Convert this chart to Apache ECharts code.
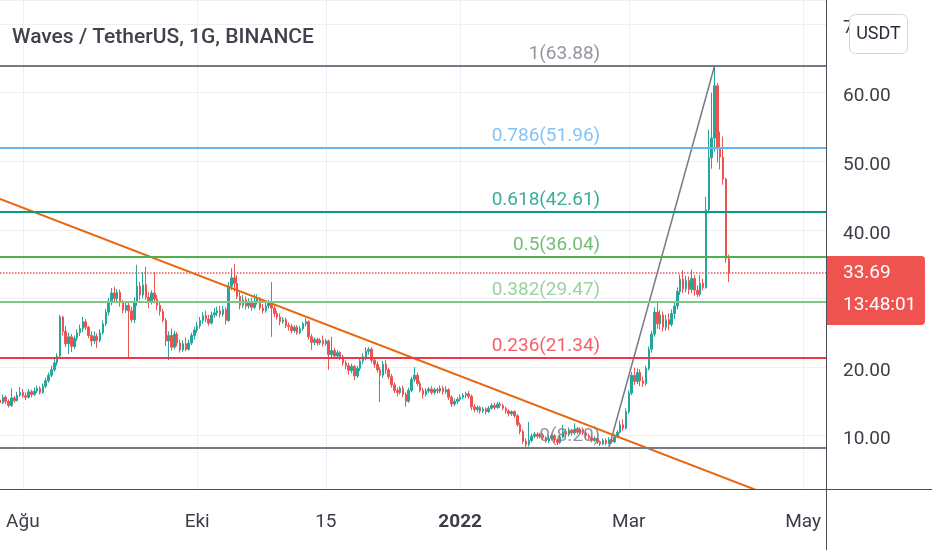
<!DOCTYPE html>
<html><head><meta charset="utf-8">
<script src="https://cdn.jsdelivr.net/npm/echarts@6/dist/echarts.min.js"></script>
<style>html,body{margin:0;padding:0;background:#fff}#c{width:932px;height:550px}</style>
</head><body><div id="c"></div>
<script>
// ---- data ----
const titleText = 'Waves / TetherUS, 1G, BINANCE';
const startDay = [2021, 6, 24];   // 2021-07-24 (month 0-based)
const dayCount = 290;             // through 2022-05-09
// daily candles [open, close, low, high] from 2021-07-24
const ohlc = [
[15.2,14.8,14.5,15.6],[14.8,15.6,14.6,16.0],[15.6,15.0,14.6,15.9],[15.0,14.4,14.1,15.3],[14.4,15.5,14.2,16.9],
[15.5,15.1,14.8,15.8],[15.1,15.9,15.0,16.4],[15.9,16.3,15.6,17.1],[16.3,15.8,15.5,16.8],[15.8,15.6,15.2,16.3],
[15.6,16.4,15.4,16.8],[16.4,16.0,15.6,16.7],[16.0,16.5,15.8,17.0],[16.5,16.9,16.2,17.3],[16.9,16.3,16.0,17.2],
[16.3,17.2,16.1,17.6],[17.2,18.0,16.9,18.4],[18.0,18.8,17.7,19.2],[18.8,19.6,18.5,20.2],[19.6,20.6,19.3,21.2],
[20.6,21.6,20.2,22.0],[21.6,27.3,21.4,27.6],[27.3,25.2,24.6,27.5],[25.2,23.4,22.9,26.0],[23.4,24.4,21.9,25.0],
[24.4,23.0,22.2,24.8],[23.0,24.2,22.6,24.6],[24.2,25.0,23.8,25.5],[25.0,25.6,24.5,26.2],[25.6,26.6,25.1,27.3],
[26.6,25.8,25.4,27.0],[25.8,24.6,24.2,26.0],[24.6,23.8,23.0,25.2],[23.8,24.5,23.4,25.2],[24.5,23.9,22.8,24.9],
[23.9,25.0,23.6,25.5],[25.0,26.3,24.7,26.8],[26.3,28.0,26.0,28.5],[28.0,29.6,27.5,30.1],[29.6,30.8,29.0,31.5],
[30.8,30.0,29.5,31.7],[30.0,30.9,29.6,31.4],[30.9,29.4,28.8,31.3],[29.4,28.3,27.8,29.8],[28.3,29.0,27.9,29.6],
[29.0,28.2,21.3,29.5],[28.2,26.9,26.5,28.8],[26.9,29.5,26.4,30.2],[29.5,31.8,28.9,34.9],[31.8,30.5,29.8,32.4],
[30.5,32.0,30.0,33.8],[32.0,30.2,29.8,34.6],[30.2,29.5,28.6,30.9],[29.5,30.8,29.1,31.2],[30.8,29.9,29.3,33.8],
[29.9,29.0,28.3,30.5],[29.0,28.1,27.5,29.6],[28.1,26.8,26.5,28.5],[26.8,23.8,23.1,27.1],[23.8,24.6,21.0,25.2],
[24.6,22.9,22.4,25.6],[22.9,24.8,22.6,25.3],[24.8,23.5,23.0,25.1],[23.5,22.5,22.1,24.0],[22.5,23.4,22.2,23.9],
[23.4,22.6,22.3,24.3],[22.6,23.5,22.4,24.0],[23.5,24.6,23.2,25.0],[24.6,25.4,24.0,25.9],[25.4,26.0,25.0,26.6],
[26.0,26.8,25.6,27.3],[26.8,27.5,26.3,28.0],[27.5,27.0,26.5,28.2],[27.0,26.4,26.0,27.6],[26.4,27.6,26.2,28.1],
[27.6,27.9,27.2,28.6],[27.9,28.2,27.4,28.8],[28.2,27.7,27.2,28.9],[27.7,28.4,27.3,28.9],[28.4,26.8,26.2,28.7],
[26.8,31.8,26.6,32.4],[31.8,33.0,31.2,34.4],[33.0,32.2,31.0,35.0],[32.2,30.3,29.9,33.4],[30.3,29.0,28.4,31.0],
[29.0,29.8,28.6,30.5],[29.8,28.9,28.4,30.3],[28.9,29.5,28.5,30.0],[29.5,28.7,28.2,30.1],[28.7,29.6,28.4,30.6],
[29.6,29.9,29.1,30.6],[29.9,28.6,28.3,30.2],[28.6,28.2,27.8,29.2],[28.2,28.9,27.9,29.4],[28.9,29.3,28.5,29.8],
[29.3,28.6,24.4,32.4],[28.6,27.8,27.3,29.0],[27.8,27.3,26.9,28.2],[27.3,26.6,26.1,27.8],[26.6,26.9,26.3,27.3],
[26.9,26.1,25.7,27.2],[26.1,25.9,25.3,26.5],[25.9,25.3,24.9,26.3],[25.3,25.8,25.0,26.1],[25.8,25.0,24.7,26.1],
[25.0,25.6,24.8,26.0],[25.6,26.3,25.3,26.6],[26.3,26.6,25.9,27.1],[26.6,24.4,24.0,26.8],[24.4,23.6,22.5,24.8],
[23.6,24.0,23.2,24.3],[24.0,23.5,23.1,24.3],[23.5,23.9,23.2,24.2],[23.9,23.4,23.0,24.6],[23.4,23.8,23.1,24.1],
[23.8,21.8,19.6,24.0],[21.8,22.4,21.2,24.4],[22.4,21.6,21.2,22.8],[21.6,22.1,21.3,22.5],[22.1,21.5,21.0,22.3],
[21.5,20.6,20.2,21.8],[20.6,20.2,19.7,21.0],[20.2,19.5,18.9,20.6],[19.5,20.1,19.1,20.5],[20.1,18.7,18.1,20.3],
[18.7,19.8,18.4,20.2],[19.8,20.9,19.4,21.3],[20.9,21.5,20.4,22.0],[21.5,22.3,21.0,22.9],[22.3,22.6,21.8,22.9],
[22.6,21.0,20.6,22.9],[21.0,20.4,19.9,21.3],[20.4,19.6,19.2,20.8],[19.6,18.8,14.9,20.0],[18.8,20.4,18.4,20.9],
[20.4,19.6,19.0,21.0],[19.6,18.6,18.2,19.9],[18.6,17.4,17.0,19.0],[17.4,16.6,16.2,17.8],[16.6,16.3,15.7,17.0],
[16.3,16.9,16.0,17.2],[16.9,16.0,15.6,17.3],[16.0,15.0,14.2,16.3],[15.0,16.6,14.8,17.0],[16.6,18.2,16.3,18.6],
[18.2,18.8,17.8,20.0],[18.8,17.6,17.2,19.2],[17.6,16.6,16.3,18.0],[16.6,16.0,15.4,17.0],[16.0,16.5,15.7,16.9],
[16.5,16.8,16.2,17.1],[16.8,16.3,16.0,17.2],[16.3,16.7,16.0,17.0],[16.7,16.5,16.1,17.0],[16.5,16.9,16.2,17.3],
[16.9,16.4,16.0,17.3],[16.4,16.7,16.1,17.2],[16.7,15.6,15.2,16.9],[15.6,14.6,14.2,15.9],[14.6,15.0,14.3,15.4],
[15.0,15.3,14.6,15.6],[15.3,15.6,15.0,16.0],[15.6,15.9,15.3,16.2],[15.9,16.1,15.5,16.4],[16.1,15.7,15.4,16.5],
[15.7,14.2,13.7,16.0],[14.2,13.8,13.4,14.6],[13.8,14.1,13.4,14.4],[14.1,13.6,13.2,14.3],[13.6,13.9,13.3,14.2],
[13.9,13.5,13.1,14.1],[13.5,14.0,13.3,14.3],[14.0,14.4,13.8,14.7],[14.4,14.1,13.8,14.8],[14.1,14.6,13.9,14.9],
[14.6,14.4,14.0,14.9],[14.4,14.0,13.7,14.7],[14.0,13.6,13.2,14.2],[13.6,13.2,12.8,13.9],[13.2,13.5,12.9,13.7],
[13.5,12.9,12.6,13.7],[12.9,11.6,11.3,13.1],[11.6,10.6,10.2,11.9],[10.6,9.2,8.8,10.9],[9.2,8.7,8.2,9.6],
[8.7,9.3,8.4,12.0],[9.3,9.9,9.0,10.3],[9.9,10.2,9.6,10.5],[10.2,9.9,9.6,10.5],[9.9,10.1,9.6,10.4],
[10.1,9.7,9.4,10.4],[9.7,9.2,8.9,9.9],[9.2,9.6,8.9,10.0],[9.6,10.0,9.3,10.3],[10.0,9.4,9.0,10.2],
[9.4,9.0,8.6,9.6],[9.0,9.8,8.8,10.1],[9.8,10.6,9.6,11.6],[10.6,10.2,9.9,11.0],[10.2,10.8,9.9,11.2],
[10.8,10.4,10.0,11.0],[10.4,10.9,10.1,11.8],[10.9,10.5,10.2,11.3],[10.5,10.9,10.2,11.2],[10.9,10.4,10.1,11.2],
[10.4,10.0,9.6,10.6],[10.0,9.7,9.4,10.3],[9.7,9.3,9.0,10.0],[9.3,9.6,9.1,9.9],[9.6,9.1,8.8,9.8],
[9.1,8.8,8.5,9.3],[8.8,9.3,8.6,9.6],[9.3,8.9,8.6,9.6],[8.9,9.4,8.7,9.8],[9.4,9.1,8.8,9.8],
[9.1,9.8,8.9,10.2],[9.8,10.5,9.6,10.8],[10.5,11.6,10.3,12.2],[11.6,11.1,10.7,12.4],[11.1,13.5,10.9,14.0],
[13.5,16.2,13.2,16.6],[16.2,18.8,15.9,19.3],[18.8,17.9,17.4,19.9],[17.9,19.2,17.5,19.8],[19.2,18.0,17.2,19.7],
[18.0,17.6,17.1,18.6],[17.6,19.8,17.3,20.2],[19.8,22.6,19.5,23.0],[22.6,24.8,22.1,25.3],[24.8,28.0,24.4,28.7],
[28.0,26.3,25.6,29.4],[26.3,27.6,25.5,28.3],[27.6,25.8,25.2,28.1],[25.8,26.9,25.3,27.6],[26.9,26.2,25.4,27.8],
[26.2,27.8,25.9,28.4],[27.8,28.9,27.0,29.5],[28.9,31.0,28.4,31.6],[31.0,32.8,30.5,33.5],[32.8,31.4,30.8,34.1],
[31.4,32.6,30.9,33.3],[32.6,31.3,30.6,33.2],[31.3,32.9,30.8,34.2],[32.9,31.2,30.4,33.4],[31.2,30.6,30.2,31.9],
[30.6,32.2,30.3,33.4],[32.2,31.6,31.2,32.9],[31.6,42.9,31.4,44.8],[42.9,50.5,42.4,54.6],[50.5,53.4,48.9,60.0],
[53.4,61.0,51.4,63.88],[61.0,51.8,49.8,61.4],[51.8,50.6,48.8,54.3],[50.6,47.4,46.6,53.6],[47.4,35.8,35.2,47.6],
[35.8,33.69,32.4,36.4]
];
const tickDates  = ['2021-08-01','2021-10-01','2021-11-15','2022-01-01','2022-03-01','2022-05-01'];
const tickLabels = ['Ağu','Eki','15','2022','Mar','May'];
const fibRatios = [1, 0.786, 0.618, 0.5, 0.382, 0.236, 0];
const fibValues = [63.88, 51.96, 42.61, 36.04, 29.47, 21.34, 8.20];
const fibColors = ['#787b86','#64b5f6','#089981','#4caf50','#81c784','#f23645','#787b86'];
const fibAnchorDates = ['2022-02-22','2022-03-31'];
const fibAnchorValues = [8.20, 63.88];
const fibLabelDate = '2022-02-19';
const trendDates = ['2021-07-24','2022-04-16'];
const trendValues = [44.5, 1.85];
const lastPrice = 33.69;
const countdown = '13:48:01';
const yMin = 2.224, yMax = 73.5;
const currency = 'USDT';

// ---- build ----
const dates = [];
const d0 = Date.UTC(startDay[0], startDay[1], startDay[2]);
for (let i = 0; i < dayCount; i++) dates.push(new Date(d0 + i * 86400000).toISOString().slice(0, 10));
const labelMap = {};
tickDates.forEach((d, i) => labelMap[d] = tickLabels[i]);

const FONT = 'Roboto, "Noto Sans", sans-serif';
const chart = echarts.init(document.getElementById('c'), null, {renderer: 'canvas'});
const GRID = {left: 0, right: 106, top: 0, bottom: 61};

chart.setOption({
  animation: false,
  backgroundColor: '#ffffff',
  textStyle: {fontFamily: FONT},
  title: {
    text: titleText, left: 12, top: 27, padding: 0,
    textStyle: {fontSize: 21, fontWeight: 500, color: '#3f424c', fontFamily: FONT}
  },
  grid: GRID,
  xAxis: {
    type: 'category', data: dates, boundaryGap: false,
    axisLine: {show: false}, axisTick: {show: false},
    axisLabel: {
      interval: (i, v) => v in labelMap,
      formatter: v => /^\d{4}$/.test(labelMap[v]) ? '{b|' + labelMap[v] + '}' : labelMap[v],
      color: '#3b3e46', fontSize: 19, margin: 24, fontFamily: FONT,
      rich: {b: {fontWeight: 'bold', fontSize: 19, color: '#3b3e46', fontFamily: FONT}}
    },
    splitLine: {show: true, interval: (i, v) => v in labelMap, lineStyle: {color: '#eceff4', width: 1}}
  },
  yAxis: {
    type: 'value', position: 'right', min: yMin, max: yMax, splitNumber: 7,
    axisLine: {show: false}, axisTick: {show: false},
    axisLabel: {
      showMinLabel: false, showMaxLabel: false, verticalAlign: 'top', lineHeight: 8,
      formatter: v => v.toFixed(2), color: '#3b3e46', fontSize: 19, margin: 17, fontFamily: FONT
    },
    splitLine: {lineStyle: {color: '#eceff4', width: 1}}
  },
  series: [
    {
      type: 'line', silent: true, showSymbol: false, symbol: 'none', z: 1,
      data: [[dates[0], lastPrice], [dates[dates.length - 1], lastPrice]],
      lineStyle: {color: '#f0505a', type: 'dotted', width: 1.5}
    },
    {
      type: 'candlestick', data: ohlc, barWidth: 2, z: 2,
      itemStyle: {color: '#26a69a', color0: '#ef5350', borderColor: '#26a69a', borderColor0: '#ef5350', borderWidth: 1}
    },
    {
      type: 'line', silent: true, showSymbol: false, symbol: 'none', z: 3,
      data: fibAnchorDates.map((d, i) => [d, fibAnchorValues[i]]),
      lineStyle: {color: '#787b86', width: 1.5},
      markLine: {
        silent: true, symbol: ['none', 'none'], label: {show: false},
        data: fibValues.map((v, i) => ({yAxis: v, lineStyle: {color: fibColors[i], width: 2, type: 'solid', opacity: 1}}))
      }
    },
    {
      type: 'line', silent: true, showSymbol: false, symbol: 'none', clip: true, z: 3,
      data: trendDates.map((d, i) => [d, trendValues[i]]),
      lineStyle: {color: '#e8660c', width: 2}
    },
    {
      type: 'scatter', silent: true, symbolSize: 0, z: 4,
      data: fibValues.map((v, i) => ({
        value: [fibLabelDate, v],
        label: {
          show: true, position: 'left', distance: 0, offset: [0, -12],
          formatter: String(fibRatios[i]) + '(' + v.toFixed(2) + ')',
          color: fibColors[i], fontSize: 19, fontFamily: FONT
        }
      }))
    }
  ]
});

const plotRight = 932 - GRID.right;
const plotBottom = 550 - GRID.bottom;
const py = chart.convertToPixel({yAxisIndex: 0}, lastPrice);
chart.setOption({
  graphic: [
    {type: 'line', z: 100, shape: {x1: plotRight + 0.5, y1: 0, x2: plotRight + 0.5, y2: 550}, style: {stroke: '#4a4d55', lineWidth: 1}},
    {type: 'line', z: 100, shape: {x1: 0, y1: plotBottom + 0.5, x2: 932, y2: plotBottom + 0.5}, style: {stroke: '#4a4d55', lineWidth: 1}},
    {type: 'rect', z: 100, shape: {x: plotRight + 1, y: py - 17, width: 98, height: 69, r: [0, 4, 4, 0]}, style: {fill: '#ef5350'}},
    {type: 'text', z: 101, x: plotRight + 17, y: py, style: {text: lastPrice.toFixed(2), fill: '#ffffff', font: '19px ' + FONT, verticalAlign: 'middle'}},
    {type: 'text', z: 101, x: plotRight + 17, y: py + 32, style: {text: countdown, fill: '#ffffff', font: '19px ' + FONT, verticalAlign: 'middle'}},
    {type: 'rect', z: 100, shape: {x: 849.5, y: 14.5, width: 58, height: 39, r: 6}, style: {fill: '#ffffff', stroke: '#d1d4dc', lineWidth: 1}},
    {type: 'text', z: 101, x: 878.5, y: 34, style: {text: currency, fill: '#2a2e39', font: '18px ' + FONT, align: 'center', verticalAlign: 'middle'}}
  ]
});
</script>
</body></html>
